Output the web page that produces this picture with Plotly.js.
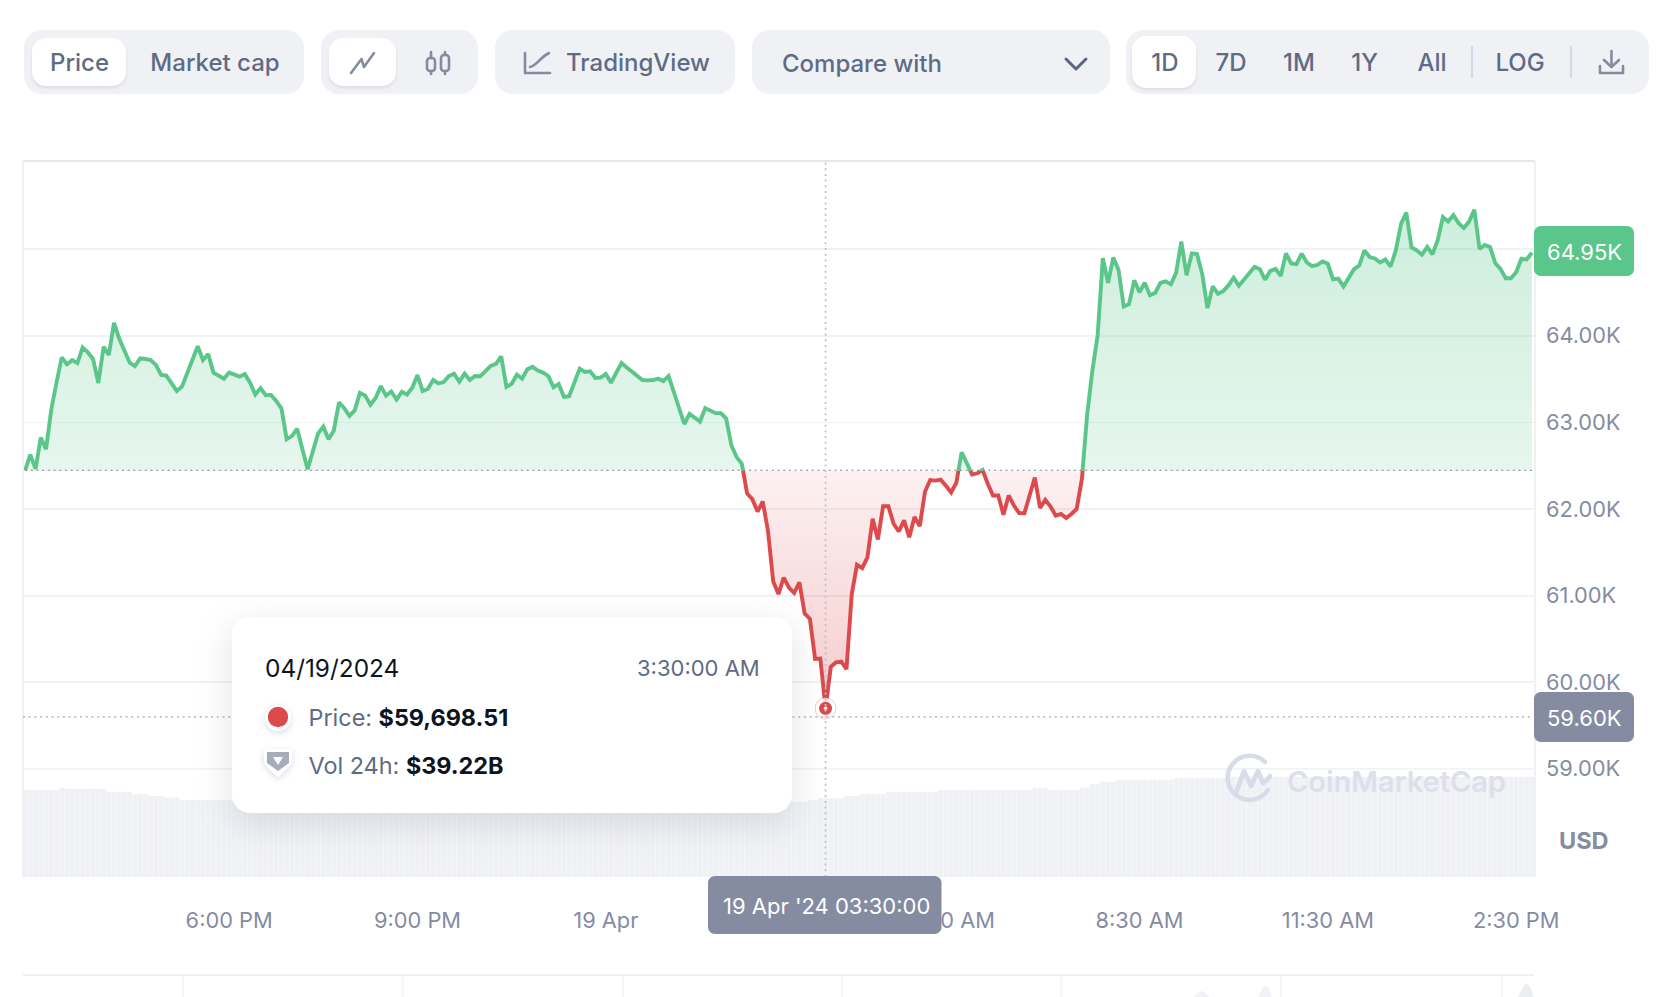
<!DOCTYPE html>
<html>
<head>
<meta charset="utf-8">
<title>Bitcoin price chart</title>
<script src="https://cdn.plot.ly/plotly-3.0.1.min.js"></script>
<style>
html,body{margin:0;padding:0;background:#fff;width:1669px;height:997px;overflow:hidden;font-family:Inter,"Noto Sans",sans-serif}
#chart{position:absolute;left:0;top:0;width:1669px;height:997px}
#overlay{position:absolute;left:0;top:0;width:1669px;height:997px;pointer-events:none;z-index:5}
.grp{position:absolute;top:30px;height:64px;background:#f0f1f5;border-radius:18px}
.pill{position:absolute;background:#fff;border-radius:14px;box-shadow:0 2px 3px rgba(88,102,126,.14)}
.t{position:absolute;white-space:nowrap;transform:translate(-50%,-50%);font-size:24px;font-weight:500;color:#5f6b84}
.l{position:absolute;white-space:nowrap;transform:translateY(-50%);font-size:23.4px;color:#5f6b84}
.sep{position:absolute;width:2px;top:46px;height:32px;background:#d5d9e6}
svg.ic{position:absolute;left:0;top:0;overflow:visible}
#tip{position:absolute;left:232px;top:617px;width:560px;height:196px;background:#fff;border-radius:18px;box-shadow:0 10px 34px rgba(128,138,157,.25)}
</style>
</head>
<body>
<div id="chart"></div>
<div id="overlay">
  <div class="grp" style="left:24px;width:280px"></div>
  <div class="pill" style="left:32px;top:38px;width:94px;height:48px"></div>
  <div class="t" style="left:79.5px;top:61.5px">Price</div>
  <div class="t" style="left:215px;top:61.5px">Market cap</div>

  <div class="grp" style="left:321px;width:157px"></div>
  <div class="pill" style="left:329px;top:38px;width:67px;height:48px"></div>

  <div class="grp" style="left:495px;width:240px"></div>
  <div class="t" style="left:638px;top:61.5px">TradingView</div>

  <div class="grp" style="left:752px;width:358px"></div>
  <div class="t" style="left:862px;top:62.5px">Compare with</div>

  <div class="grp" style="left:1126px;width:523px"></div>
  <div class="pill" style="left:1132px;top:36px;width:64px;height:52px"></div>
  <div class="t" style="left:1165px;top:61.5px">1D</div>
  <div class="t" style="left:1231px;top:61.5px">7D</div>
  <div class="t" style="left:1299px;top:61.5px">1M</div>
  <div class="t" style="left:1364.5px;top:61.5px">1Y</div>
  <div class="t" style="left:1432px;top:61.5px">All</div>
  <div class="sep" style="left:1471px"></div>
  <div class="t" style="left:1520px;top:61.5px">LOG</div>
  <div class="sep" style="left:1570px"></div>

  <svg class="ic" width="1669" height="997" fill="none" stroke-linecap="round" stroke-linejoin="round">
    <g stroke="#858ca2" stroke-width="2.6">
      <path d="M351 73 L361.5 59 L364 67 L374 53"/>
      <path d="M431 52 V58 M431 71 V74 M445 52 V55 M445 71 V74"/>
      <rect x="427" y="58" width="8" height="13" rx="3"/>
      <rect x="441" y="55" width="8" height="16" rx="3"/>
      <path d="M525 53 V73 H550 M530 67 C537 66 539 58 549 53"/>
      <path d="M1611.5 51 V66 M1604 60 L1611.5 67 L1619 60 M1600 66 V73 H1623 V66"/>
    </g>
    <path d="M1066 59 L1076 69 L1086 59" stroke="#58667e" stroke-width="3"/>
    <g stroke="#d8dce9" stroke-width="4.6">
      <path d="M1265 762 A22 22 0 1 0 1268 790 M1236 793 L1244 771 L1251 786 L1258 771 L1263 783 A20 20 0 0 0 1270 776"/>
    </g>
  </svg>

  <div id="tip"></div>
  <div class="l" style="left:265px;top:668px;color:#0d1421;font-size:24.4px;font-weight:400">04/19/2024</div>
  <div class="l" style="left:637px;top:668px;font-size:22px;font-weight:400">3:30:00 AM</div>
  <svg class="ic" width="1669" height="997">
    <circle cx="278" cy="718" r="13" fill="#fff" style="filter:drop-shadow(0 2px 3px rgba(128,138,157,.3))"/>
    <circle cx="278" cy="717" r="10.2" fill="#dc4a4d"/>
    <path d="M266 751 H290 V763 L278 775 L266 763 Z" fill="#fff" stroke="#fff" stroke-width="4" stroke-linejoin="round" style="filter:drop-shadow(0 2px 3px rgba(128,138,157,.3))"/>
    <path d="M267 752 H289 V763 L278 771 L267 763 Z M273 757 L278 765 L283 757 Z" fill="#a6acbe" fill-rule="evenodd"/>
  </svg>
  <div class="l" style="left:308.5px;top:716.5px;font-weight:400">Price: <b style="color:#0d1421;font-weight:700">$59,698.51</b></div>
  <div class="l" style="left:308.5px;top:764.5px;font-weight:400">Vol 24h: <b style="color:#0d1421;font-weight:700">$39.22B</b></div>
</div>
<script>
// ---- data ----
const startTime = Date.UTC(2024, 3, 18, 14, 45);
const stepMinutes = 5;
const baselinePrice = 62446;
const hoverPrice = 59600;
const hoverIndex = 153;

const prices = [
62450,62631,62467,62829,62693,63148,63459,63751,63673,63720,63685,63864,63809,63732,63455,63872,63778,64148,63965,63829,63689,63650,63739,63732,63720,63665,63549,63541,63459,63362,63416,63576,63732,63879,63720,63790,63576,
63537,63506,63576,63548,63529,63560,63459,63323,63397,63315,63319,63249,63163,62809,62844,62930,62700,62463,62669,62876,62953,62809,62907,63233,63167,63078,63140,63342,63311,63206,63284,63420,63311,63358,63265,63354,
63323,63401,63548,63362,63389,63490,63451,63467,63537,63564,63471,63564,63490,63537,63533,63595,63654,63677,63762,63412,63447,63552,63506,63615,63642,63599,63576,63537,63408,63443,63296,63303,63478,63622,63583,63591,
63513,63517,63560,63459,63576,63685,63634,63584,63537,63490,63486,63490,63506,63478,63537,63342,63148,62984,63101,63062,63012,63167,63140,63109,63109,63047,62739,62603,62525,62183,62117,61973,62090,61747,61164,61020,61211,61094,61032,61156,60794,60736,60269,60273,59698.51,
60180,60230,60238,60152,61016,61358,61319,61444,61891,61650,62035,62035,61833,61743,61872,61677,61911,61805,62202,62338,62331,62342,62272,62195,62307,62657,62533,62401,62416,62455,
62296,62160,62160,61938,62160,62043,61957,61954,62160,62366,62016,62109,62031,61926,61946,61899,61946,62004,62354,63093,63599,64004,64894,64610,64902,64758,64338,64365,64638,64502,64610,64467,64494,64610,64626,
64592,64724,65086,64697,64949,64942,64708,64319,64568,64483,64514,64580,64669,64576,64646,64716,64794,64767,64646,64747,64770,64689,64949,64833,64825,64946,64844,64802,64817,64856,64829,64650,64658,64568,64669,64767,
64809,64984,64907,64891,64844,64879,64798,64984,65288,65420,65016,64984,64934,65023,64938,65101,65366,65315,65389,65296,65241,65315,65451,65000,65047,65023,64837,64770,64662,64662,64732,64887,64879,64957
];

// 24h volume in billions, as read plateaus: level and how many 5-minute bars it lasts
const volumeLevels = [43.4,44.6,43.8,42.4,41.2,40.4,39.6,38.4,38.0,37.4,38.2,39.22,40.4,41.3,42.4,43.4,44.4,43.4,44.6,46.3,47.5,48.5,49.3,50.0];
const volumeRuns   = [7,1,8,5,3,3,3,10,107,3,2,5,3,5,10,18,3,6,2,2,3,11,11,58];

const xTickVals = ['2024-04-18 18:00','2024-04-18 21:00','2024-04-19 00:00','2024-04-19 05:30','2024-04-19 08:30','2024-04-19 11:30','2024-04-19 14:30'];
const xTickText = ['6:00 PM','9:00 PM','19 Apr','5:30 AM','8:30 AM','11:30 AM','2:30 PM'];
const upperTickVals = [63000,64000,65000];
const upperTickText = ['63.00K','64.00K',' '];
const lowerTickVals = [59000,60000,61000,62000];
const lowerTickText = ['59.00K','60.00K','61.00K','62.00K'];
const navTickPx = [183,403,623,842,1061,1281,1502];

// ---- derived ----
const times = prices.map((_, i) => new Date(startTime + i * stepMinutes * 60000).toISOString().slice(0, 16).replace('T', ' '));
const volumes = [];
volumeLevels.forEach((v, i) => { for (let k = 0; k < volumeRuns[i]; k++) volumes.push(v); });
const base = times.map(() => baselinePrice);
const minPrice = Math.min(...prices), maxPrice = Math.max(...prices);
const baseFrac = (baselinePrice - minPrice) / (maxPrice - minPrice);

const GREEN = '#5bc68a', RED = '#dc4a4d', AXIS = '#858ca2', GRID = '#f1f2f4';
const L = 23, R = 1535, T = 161, B = 877;
const px = x => (x - L) / (R - L);
const py = y => (B - y) / (B - T);
const splitDomain = py(470.7);
const AX_FONT = {family: 'Inter, sans-serif', size: 21.8, color: AXIS};

function rr(x0, y0, x1, y1, r) {
  const a = (x, y) => px(x) + ',' + py(y);
  const c = 0.45 * r;
  return 'M' + a(x0 + r, y0) + ' L' + a(x1 - r, y0) + ' C' + a(x1 - c, y0) + ' ' + a(x1, y0 + c) + ' ' + a(x1, y0 + r) +
    ' L' + a(x1, y1 - r) + ' C' + a(x1, y1 - c) + ' ' + a(x1 - c, y1) + ' ' + a(x1 - r, y1) +
    ' L' + a(x0 + r, y1) + ' C' + a(x0 + c, y1) + ' ' + a(x0, y1 - c) + ' ' + a(x0, y1 - r) +
    ' L' + a(x0, y0 + r) + ' C' + a(x0, y0 + c) + ' ' + a(x0 + c, y0) + ' ' + a(x0 + r, y0) + ' Z';
}
const pshape = (path, fill) => ({type: 'path', xref: 'paper', yref: 'paper', path, fillcolor: fill, line: {width: 0}, layer: 'above'});
const pline = (x0, y0, x1, y1, color, width) => ({type: 'line', xref: 'paper', yref: 'paper', x0: px(x0), y0: py(y0), x1: px(x1), y1: py(y1), line: {color, width}, layer: 'above'});
const note = (x, y, text, color, size, weight) => ({xref: 'paper', yref: 'paper', x: px(x), y: py(y), text, showarrow: false, xanchor: 'center', yanchor: 'middle', font: {family: 'Inter, sans-serif', size, color, weight: weight || 400}});

const DOTS = '2px,3.7px';
const traces = [
  {x: times, y: volumes, xaxis: 'x', yaxis: 'y3', type: 'bar', marker: {color: '#f0f1f5', line: {width: 0}}, hoverinfo: 'skip'},
  {x: times, y: base, xaxis: 'x', yaxis: 'y', mode: 'lines', line: {width: 0}, hoverinfo: 'skip'},
  {x: times, y: prices, xaxis: 'x', yaxis: 'y', mode: 'lines', line: {color: GREEN, width: 3.9, shape: 'linear'}, fill: 'tonexty',
   fillgradient: {type: 'vertical', start: baselinePrice, stop: 65400, colorscale: [[0, 'rgba(91,198,138,0.15)'], [1, 'rgba(91,198,138,0.30)']]}, hoverinfo: 'skip'},
  {x: times, y: base, xaxis: 'x', yaxis: 'y2', mode: 'lines', line: {width: 0}, hoverinfo: 'skip'},
  {x: times, y: prices, xaxis: 'x', yaxis: 'y2', mode: 'lines', line: {color: RED, width: 3.9, shape: 'linear'}, fill: 'tonexty',
   fillgradient: {type: 'vertical', colorscale: [[0, 'rgba(220,74,77,0.28)'], [baseFrac, 'rgba(220,74,77,0.08)'], [1, 'rgba(220,74,77,0.08)']]}, hoverinfo: 'skip'},
  {x: [times[hoverIndex]], y: [prices[hoverIndex]], xaxis: 'x', yaxis: 'y2', mode: 'markers', cliponaxis: false,
   marker: {size: 21, color: 'rgba(255,255,255,0.9)', line: {color: 'rgba(220,74,77,0.3)', width: 1}}, hoverinfo: 'skip'},
  {x: [times[hoverIndex]], y: [prices[hoverIndex]], xaxis: 'x', yaxis: 'y2', mode: 'markers', cliponaxis: false,
   marker: {size: 13, color: RED}, hoverinfo: 'skip'},
  {x: [times[hoverIndex]], y: [prices[hoverIndex]], xaxis: 'x', yaxis: 'y2', mode: 'markers', cliponaxis: false,
   marker: {size: 3.5, color: '#fff'}, hoverinfo: 'skip'}
];

const shapes = [
  pline(L, 161, R, 161, '#e6e7ea', 2),
  pline(L, 161, L, B, '#f0f1f3', 2),
  pline(R, 161, R, B, '#f0f1f3', 2),
  {type: 'line', xref: 'x', yref: 'y', x0: times[0], x1: times[times.length - 1], y0: baselinePrice, y1: baselinePrice, line: {color: '#7f8494', width: 2, dash: DOTS}, layer: 'above'},
  {type: 'line', xref: 'x', yref: 'y2', x0: '2024-04-18 14:43', x1: times[times.length - 1], y0: hoverPrice, y1: hoverPrice, line: {color: '#bcc0cb', width: 1.7, dash: DOTS}, layer: 'above'},
  {type: 'line', xref: 'x', yref: 'paper', x0: times[hoverIndex], x1: times[hoverIndex], y0: 0, y1: 1, line: {color: '#bcc0cb', width: 1.7, dash: DOTS}, layer: 'above'},
  pline(L, 975, 1534, 975, '#eff0f3', 2)
].concat(navTickPx.map(x => pline(x, 975, x, 997, '#eff0f3', 1.2)));
shapes.push(
  pshape(rr(1534, 226, 1634, 276, 7), GREEN),
  pshape(rr(1534, 692, 1634, 742, 7), AXIS),
  pshape(rr(708, 876, 941.5, 934, 7), AXIS),
  {type: 'path', xref: 'paper', yref: 'paper', fillcolor: '#f1f2f5', line: {width: 0}, layer: 'above',
   path: 'M' + px(1194) + ',' + py(997) + ' L' + px(1200) + ',' + py(991) + ' L' + px(1204) + ',' + py(992) + ' L' + px(1210) + ',' + py(997) + ' Z'},
  {type: 'path', xref: 'paper', yref: 'paper', fillcolor: '#f1f2f5', line: {width: 0}, layer: 'above',
   path: 'M' + px(1258) + ',' + py(997) + ' L' + px(1264) + ',' + py(986) + ' L' + px(1268) + ',' + py(987) + ' L' + px(1272) + ',' + py(997) + ' Z'},
  {type: 'path', xref: 'paper', yref: 'paper', fillcolor: '#eceef2', line: {width: 0}, layer: 'above',
   path: 'M' + px(1518) + ',' + py(997) + ' L' + px(1525) + ',' + py(983) + ' L' + px(1530) + ',' + py(986) + ' L' + px(1534) + ',' + py(997) + ' Z'}
);

const annotations = [
  note(1584, 252, '64.95K', '#fff', 22),
  note(1584, 718, '59.60K', '#fff', 22),
  note(1584, 840, 'USD', AXIS, 23.5, 700),
  note(826, 906, "19 Apr '24 03:30:00", '#fff', 22),
  note(1396, 781, 'CoinMarketCap', '#dde0ea', 29, 600)
];

const layout = {
  width: 1669, height: 997, showlegend: false, hovermode: false,
  paper_bgcolor: '#fff', plot_bgcolor: '#fff',
  margin: {l: L, r: 1669 - R, t: T, b: 997 - B, pad: 0},
  bargap: 0.06,
  xaxis: {type: 'date', range: ['2024-04-18 14:43', '2024-04-19 14:48'], anchor: 'y3', showgrid: false, zeroline: false, showline: false,
          ticks: '', tickmode: 'array', tickvals: xTickVals, ticktext: xTickText, tickfont: AX_FONT, ticklabelstandoff: 28, tickangle: 0},
  yaxis: {domain: [splitDomain, 1], range: [baselinePrice, 66013], side: 'right', anchor: 'x', zeroline: false, showline: false, showgrid: true, gridcolor: GRID, gridwidth: 1.6,
          ticks: '', tickmode: 'array', tickvals: upperTickVals, ticktext: upperTickText, tickfont: AX_FONT, ticklabelstandoff: 10},
  yaxis2: {domain: [0, splitDomain], range: [57749, baselinePrice], side: 'right', anchor: 'x', zeroline: false, showline: false, showgrid: true, gridcolor: GRID, gridwidth: 1.6,
          ticks: '', tickmode: 'array', tickvals: lowerTickVals, ticktext: lowerTickText, tickfont: AX_FONT, ticklabelstandoff: 10},
  yaxis3: {domain: [0, 0.15], range: [0, 53.5], anchor: 'x', showgrid: false, zeroline: false, showline: false, showticklabels: false, ticks: ''},
  shapes, annotations
};

Plotly.newPlot('chart', traces, layout, {displayModeBar: false, staticPlot: true});
</script>
</body>
</html>
